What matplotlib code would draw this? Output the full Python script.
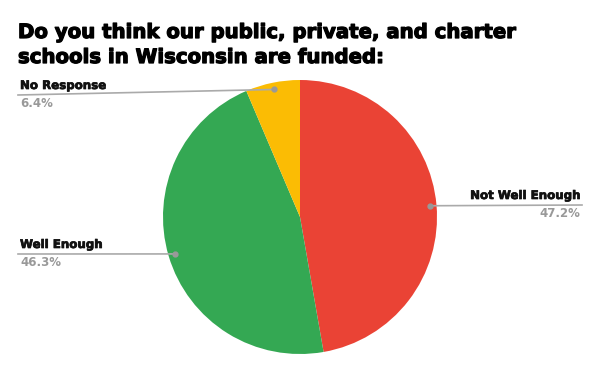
import numpy as np
import matplotlib
matplotlib.use("Agg")
import matplotlib.pyplot as plt
import matplotlib.patheffects as pe

labels = ["Not Well Enough", "Well Enough", "No Response"]
values = [47.2, 46.3, 6.4]
colors = ["#EA4335", "#34A853", "#FBBC04"]
title = "Do you think our public, private, and charter\nschools in Wisconsin are funded:"

W, H = 600, 371
fig = plt.figure(figsize=(6, 3.71), dpi=100)
ax = fig.add_axes([0, 0, 1, 1])

cx, cy, r = 300, H - 217, 137
ax.pie(values, colors=colors, startangle=90, counterclock=False,
       center=(cx, cy), radius=r, frame=True,
       wedgeprops=dict(linewidth=0))
ax.set_xlim(0, W)
ax.set_ylim(0, H)
ax.set_aspect("equal")
ax.axis("off")

heavy = [pe.withStroke(linewidth=0.9, foreground="#000000")]
fig.text(18 / W, 1 - 23 / H, title, ha="left", va="top", fontsize=14.2,
         fontweight="heavy", family="DejaVu Sans", linespacing=1.4,
         color="#000000", path_effects=heavy)

# leader lines + labels
total = sum(values)
# line end point (px from top-left) and text alignment
anchors = [(582, 205, "right"), (18, 254, "left"), (18, 95, "left")]
cum = 0
for lab, v, (lx, ly, ha) in zip(labels, values, anchors):
    mid = np.deg2rad(90 - (cum + v / 2) / total * 360)
    cum += v
    dx = cx + 0.95 * r * np.cos(mid)
    dy = cy + 0.95 * r * np.sin(mid)
    ax.plot([dx, lx], [dy, H - ly], color="#aaaaaa", lw=1.2)
    ax.plot(dx, dy, "o", color="#999999", ms=3.5)
    tx = lx - 2 if ha == "right" else lx + 2
    ax.text(tx, H - ly + 3, lab, ha=ha, va="bottom", fontsize=8.5,
            fontweight="bold", color="#111111",
            path_effects=[pe.withStroke(linewidth=0.5, foreground="#111111")])
    ax.text(tx, H - ly - 2, f"{v}%", ha=ha, va="top", fontsize=8.5,
            fontweight="bold", color="#999999")

fig.savefig("out.png", dpi=100)
